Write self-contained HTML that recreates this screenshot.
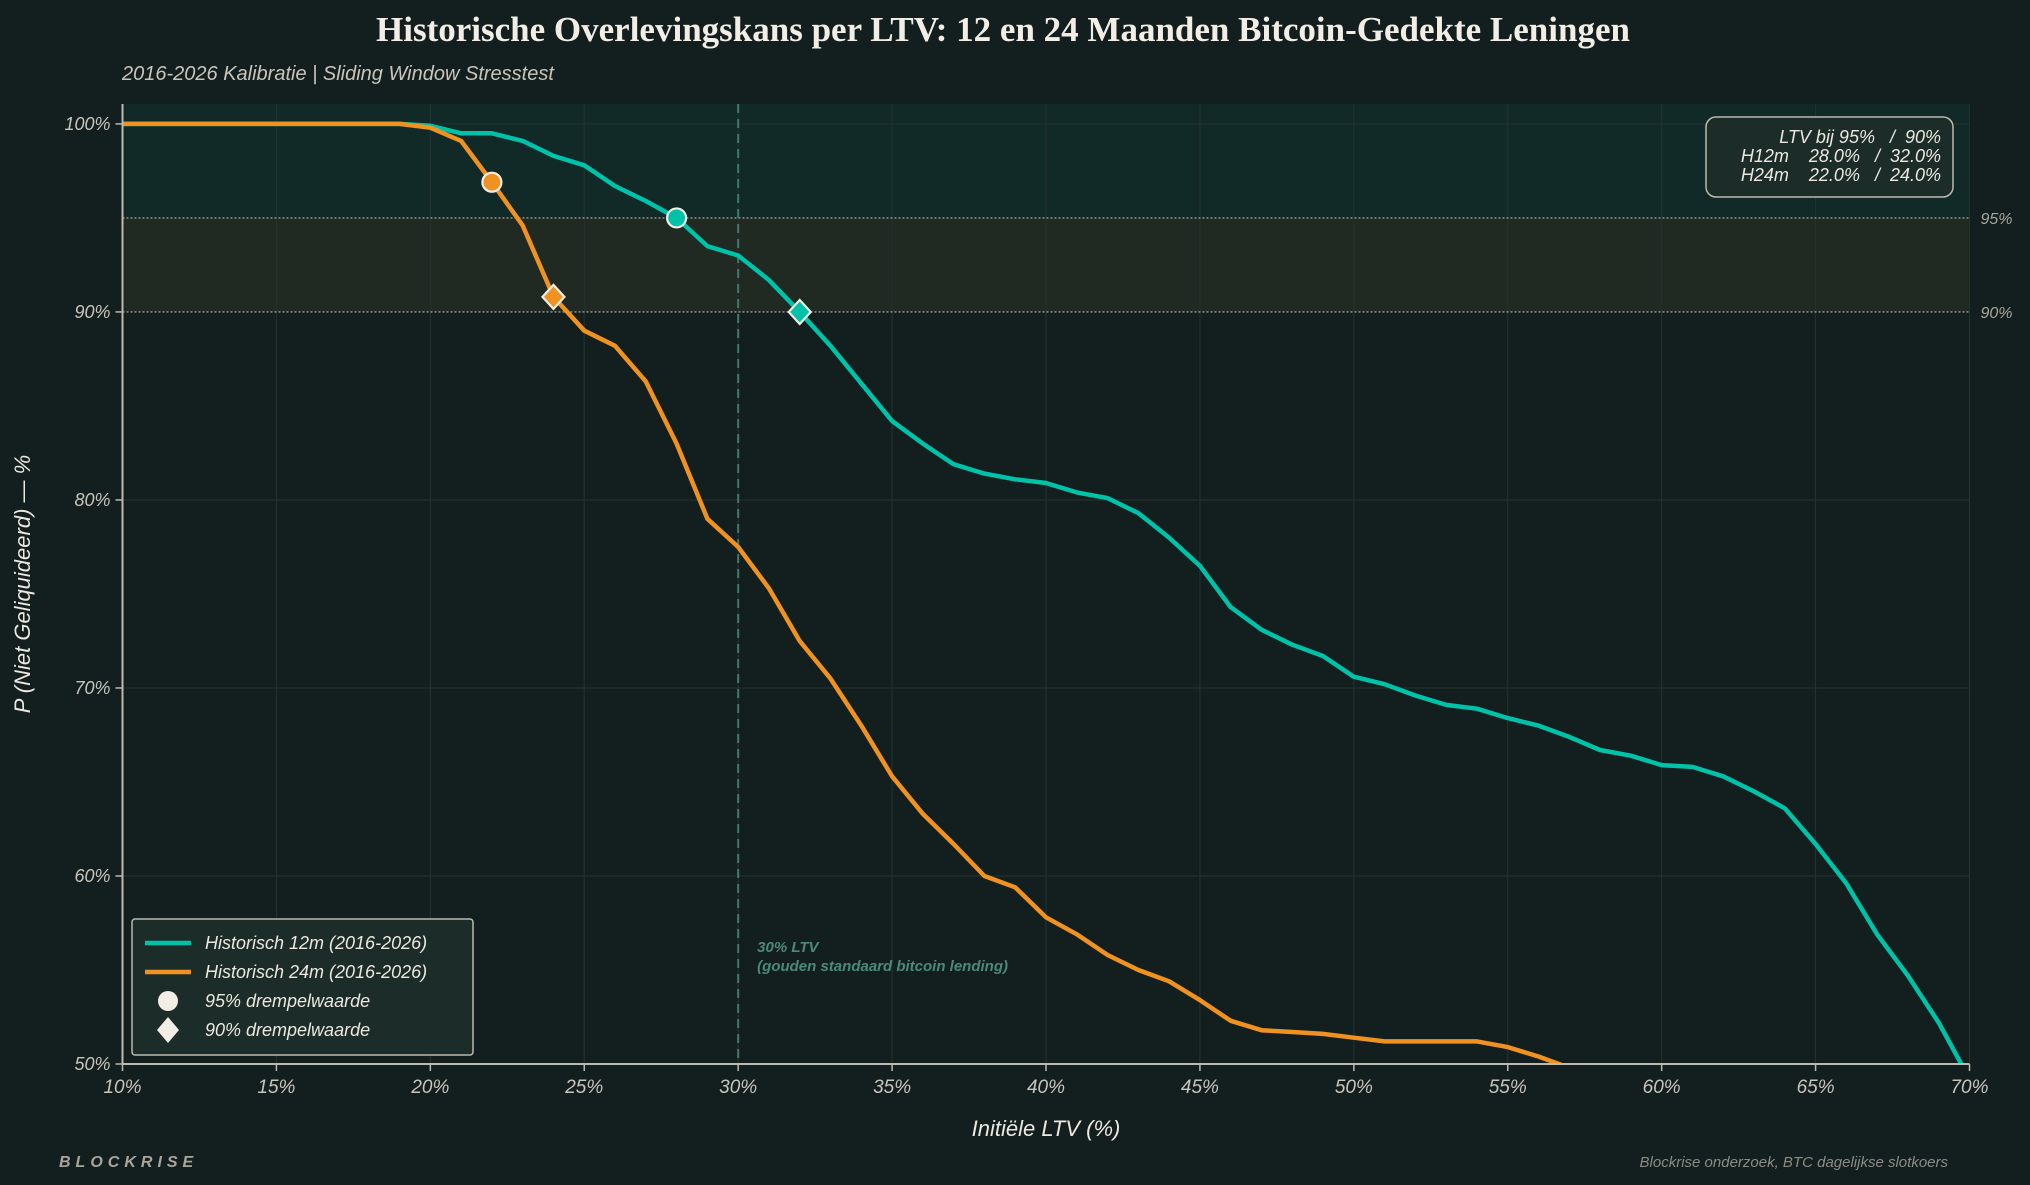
<!DOCTYPE html>
<html><head><meta charset="utf-8"><style>
html,body{margin:0;padding:0;background:#131f1f;width:2030px;height:1185px;overflow:hidden;}
svg{display:block;font-family:"Liberation Sans",sans-serif;}
</style></head><body>
<svg id="chart" width="2030" height="1185" viewBox="0 0 2030 1185">
<rect x="0" y="0" width="2030" height="1185" fill="#131f1f"/>
<text x="1003" y="41" text-anchor="middle" font-family="'Liberation Serif',serif" font-weight="bold" font-size="35" fill="#f2eee6">Historische Overlevingskans per LTV: 12 en 24 Maanden Bitcoin-Gedekte Leningen</text>
<text x="122" y="80" font-style="italic" font-size="20" fill="#c9c5bb">2016-2026 Kalibratie  |  Sliding Window Stresstest</text>
<g id="plot"></g>
<text x="1046" y="1136" text-anchor="middle" font-style="italic" font-size="22" fill="#ece8e0">Initiële LTV (%)</text>
<text transform="translate(30,584) rotate(-90)" text-anchor="middle" font-style="italic" font-size="22" fill="#ece8e0">P (Niet Geliquideerd) — %</text>
<text x="59" y="1167" font-style="italic" font-weight="bold" font-size="16" letter-spacing="5" fill="#a8a59c">BLOCKRISE</text>
<text x="1948" y="1167" text-anchor="end" font-style="italic" font-size="15" fill="#8d8b84">Blockrise onderzoek, BTC dagelijkse slotkoers</text>
</svg>
<script>
const ltv = [10,11,12,13,14,15,16,17,18,19,20,21,22,23,24,25,26,27,28,29,30,31,32,33,34,35,36,37,38,39,40,41,42,43,44,45,46,47,48,49,50,51,52,53,54,55,56,57,58,59,60,61,62,63,64,65,66,67,68,69,70];
const s12 = [100,100,100,100,100,100,100,100,100,100,99.9,99.5,99.5,99.1,98.3,97.8,96.7,95.9,95.0,93.5,93.0,91.7,90.0,88.2,86.2,84.2,83.0,81.9,81.4,81.1,80.9,80.4,80.1,79.3,78.0,76.5,74.3,73.1,72.3,71.7,70.6,70.2,69.6,69.1,68.9,68.4,68.0,67.4,66.7,66.4,65.9,65.8,65.3,64.5,63.6,61.7,59.6,56.9,54.7,52.2,49.2];
const s24 = [100,100,100,100,100,100,100,100,100,100,99.8,99.1,96.9,94.6,90.8,89.0,88.2,86.3,83.0,79.0,77.5,75.3,72.5,70.5,68.0,65.3,63.3,61.7,60.0,59.4,57.8,56.9,55.8,55.0,54.4,53.4,52.3,51.8,51.7,51.6,51.4,51.2,51.2,51.2,51.2,50.9,50.4,49.8,49.2,48.5,47.8,47.0,46.2,45.5,44.8,44.0,43.2,42.5,41.8,41.0,40.3];
const thr95 = [28.0, 22.0];
const thr90 = [32.0, 24.0];
const xTicks = [10,15,20,25,30,35,40,45,50,55,60,65,70];
const yTicks = [50,60,70,80,90,100];

const L=122.5,R=1969.5,T=104,B=1064,XMIN=10,XMAX=70,YMIN=50,YMAX=101.06;
const X=v=>L+(v-XMIN)/(XMAX-XMIN)*(R-L);
const Y=v=>B-(v-YMIN)/(YMAX-YMIN)*(B-T);
const NS='http://www.w3.org/2000/svg';
const g=document.getElementById('plot');
function mk(tag,attrs,parent){const e=document.createElementNS(NS,tag);for(const k in attrs)e.setAttribute(k,attrs[k]);(parent||g).appendChild(e);return e;}

let e;
e=mk('rect',{x:L,y:T,width:R-L,height:B-T,fill:'#131f1f'});


e=mk('rect',{x:L,y:T,width:R-L,height:Y(95)-T,fill:'#112a28'});


e=mk('rect',{x:L,y:Y(95),width:R-L,height:Y(90)-Y(95),fill:'#202922'});



xTicks.forEach(t=>{
  e=mk('line',{x1:X(t),x2:X(t),y1:T,y2:B,stroke:'#25332f','stroke-width':1});
  
  
  e=mk('line',{x1:X(t),x2:X(t),y1:B,y2:B+7,stroke:'#bdb9ae','stroke-width':1.5});
  
  
  e=mk('text',{x:X(t),y:B+29,'text-anchor':'middle','font-style':'italic','font-size':19,fill:'#c9c5bb'});
  e.textContent=t+'%';
  
  
});
yTicks.forEach(t=>{
  if(t!==50&&t!==90){
  e=mk('line',{x1:L,x2:R,y1:Y(t),y2:Y(t),stroke:'#25332f','stroke-width':1});
  
  }
  e=mk('line',{x1:L-7,x2:L,y1:Y(t),y2:Y(t),stroke:'#bdb9ae','stroke-width':1.5});
  
  
  e=mk('text',{x:L-12,y:Y(t)+6,'text-anchor':'end','font-style':'italic','font-size':18,fill:'#c9c5bb'});
  e.textContent=t+'%';
  
  
});
[95,90].forEach(t=>{
  e=mk('line',{x1:L,x2:R,y1:Y(t),y2:Y(t),stroke:'#9a9a8c','stroke-width':1.3,'stroke-dasharray':'2,2'});
  
  
  e=mk('text',{x:R+11,y:Y(t)+6,'font-style':'italic','font-size':16,fill:'#a9a69c'});
  e.textContent=t+'%';
  
  
});
e=mk('line',{x1:X(30),x2:X(30),y1:T,y2:B,stroke:'#3f7a6e','stroke-width':2,'stroke-dasharray':'9,6'});


e=mk('text',{x:X(30)+19,y:952,'font-style':'italic','font-weight':'bold','font-size':15,fill:'#4b8a78'});
e.textContent='30% LTV';


e=mk('text',{x:X(30)+19,y:971,'font-style':'italic','font-weight':'bold','font-size':15,fill:'#4b8a78'});
e.textContent='(gouden standaard bitcoin lending)';



mk('clipPath',{id:'clip'},mk('defs',{}));
mk('rect',{x:L,y:T,width:R-L,height:B-T},document.getElementById('clip'));
function series(vals,color,name){
  const d=vals.map((v,i)=>(i?'L':'M')+X(ltv[i]).toFixed(1)+','+Y(v).toFixed(1)).join(' ');
  const p=mk('path',{d:d,fill:'none',stroke:color,'stroke-width':4.5,'stroke-linejoin':'round','clip-path':'url(#clip)'});
  
  
}
series(s12,'#00c2a8','line-12m');
series(s24,'#ef9222','line-24m');

function valAt(vals,x){const i=ltv.indexOf(x);return vals[i];}
[[s12,'#00c2a8','12m',0],[s24,'#ef9222','24m',1]].forEach(([vals,c,n,k])=>{
  const cx=X(thr95[k]),cy=Y(valAt(vals,thr95[k]));
  e=mk('circle',{cx:cx,cy:cy,r:9.5,fill:c,stroke:'#f2eee6','stroke-width':2.2});
  
  
  const dx=X(thr90[k]),dy=Y(valAt(vals,thr90[k]));
  e=mk('path',{d:`M${dx},${dy-12} L${dx+11},${dy} L${dx},${dy+12} L${dx-11},${dy} Z`,fill:c,stroke:'#f2eee6','stroke-width':2.2});
  
  
});

e=mk('line',{x1:L,x2:L,y1:T,y2:B,stroke:'#bdb9ae','stroke-width':2});


e=mk('line',{x1:L,x2:R,y1:B,y2:B,stroke:'#bdb9ae','stroke-width':2});



// summary box
const sb=mk('g',{});


mk('rect',{x:1706,y:117,width:247,height:80,rx:10,fill:'#1b2c29',stroke:'#bdb9ae','stroke-width':1.5},sb);
[['LTV bij 95%   /  90%',143],['H12m    '+thr95[0].toFixed(1)+'%   /  '+thr90[0].toFixed(1)+'%',162],['H24m    '+thr95[1].toFixed(1)+'%   /  '+thr90[1].toFixed(1)+'%',181]].forEach(([t,y])=>{
  e=mk('text',{x:1941,y:y,'text-anchor':'end','font-style':'italic','font-size':18,fill:'#ece8e0'},sb);
  e.setAttribute('style','white-space:pre');
  e.textContent=t;
  
  
});

// legend
const lg=mk('g',{});


mk('rect',{x:132,y:919,width:341,height:136,rx:3,fill:'#1b2c29',stroke:'#bdb9ae','stroke-width':1.5},lg);
const items=[['line','#00c2a8','Historisch 12m (2016-2026)',943],['line','#ef9222','Historisch 24m (2016-2026)',972],['circle','#f2eee6','95% drempelwaarde',1001],['diamond','#f2eee6','90% drempelwaarde',1030]];
items.forEach(([k,c,t,y])=>{
  const it=mk('g',{},lg);
  
  
  if(k==='line')mk('line',{x1:145,x2:191,y1:y,y2:y,stroke:c,'stroke-width':4.5},it);
  else if(k==='circle')mk('circle',{cx:168,cy:y,r:10,fill:c},it);
  else mk('path',{d:`M168,${y-13} L179,${y} L168,${y+13} L157,${y} Z`,fill:c},it);
  const tx=mk('text',{x:205,y:y+6,'font-style':'italic','font-size':18,fill:'#ece8e0'},it);
  tx.textContent=t;
});
</script>
</body></html>
